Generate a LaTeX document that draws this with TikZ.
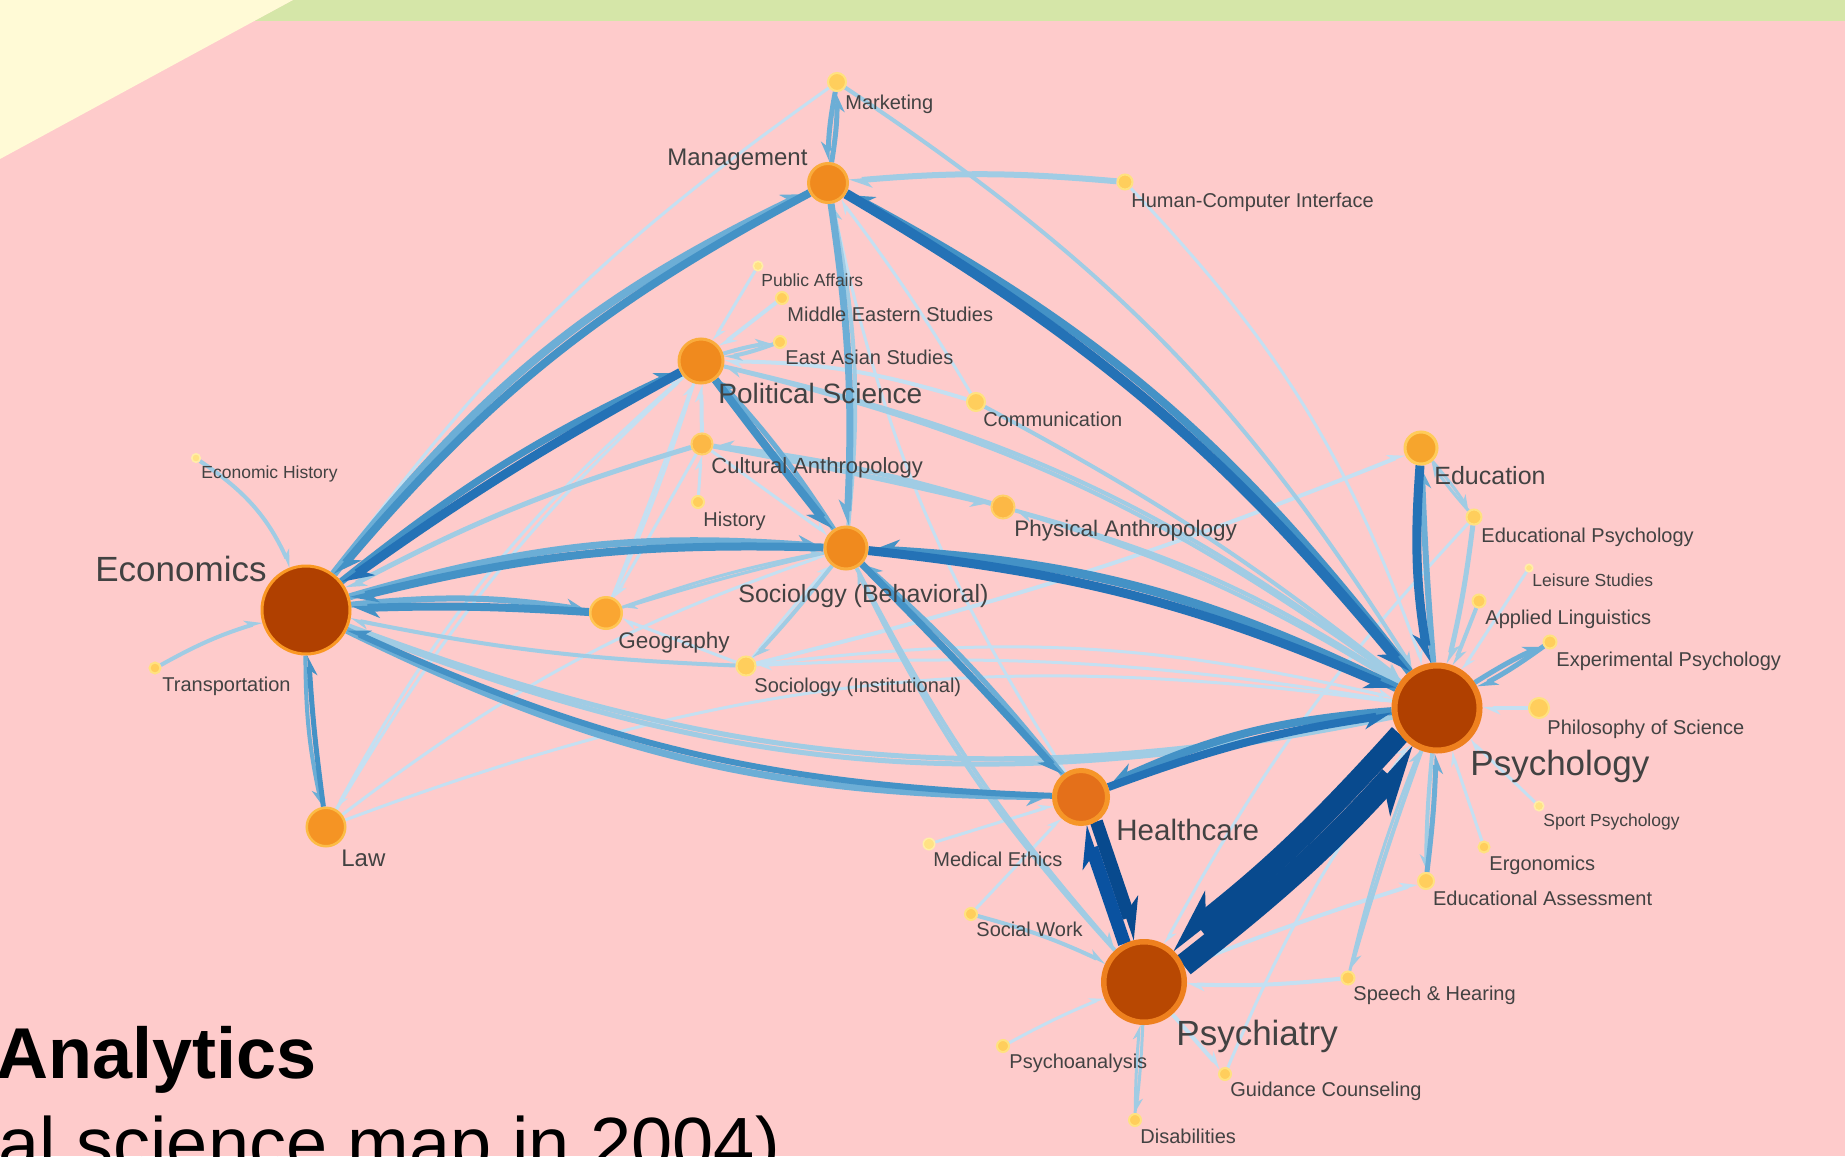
\documentclass[tikz,border=0pt]{standalone}
\usepackage{fontspec}
\setmainfont{Liberation Sans}
\usetikzlibrary{arrows.meta}

% background fields
\definecolor{pinkbg}{RGB}{254,203,203}
\definecolor{greenbg}{RGB}{213,230,168}
\definecolor{yellowbg}{RGB}{255,250,214}
% connector blues, light to dark
\definecolor{eA}{RGB}{196,224,242}
\definecolor{eB}{RGB}{160,204,228}
\definecolor{eC}{RGB}{108,174,214}
\definecolor{eD}{RGB}{68,146,198}
\definecolor{eE}{RGB}{36,114,182}
\definecolor{eF}{RGB}{10,82,160}
\definecolor{eG}{RGB}{8,74,142}
% node fills and rims
\definecolor{fBig}{RGB}{176,64,0}
\definecolor{fPsc}{RGB}{184,72,2}
\definecolor{bPsy}{RGB}{238,128,30}
\definecolor{bEco}{RGB}{250,152,35}
\definecolor{fHc}{RGB}{228,112,26}
\definecolor{bHc}{RGB}{246,150,40}
\definecolor{fMid}{RGB}{240,138,30}
\definecolor{bMid}{RGB}{250,172,60}
\definecolor{fLaw}{RGB}{245,148,36}
\definecolor{bLaw}{RGB}{252,188,70}
\definecolor{fEdu}{RGB}{246,165,45}
\definecolor{bEdu}{RGB}{255,204,90}
\definecolor{fGeo}{RGB}{250,166,50}
\definecolor{bGeo}{RGB}{255,198,84}
\definecolor{fAnt}{RGB}{252,184,70}
\definecolor{bAnt}{RGB}{255,208,105}
\definecolor{fSm}{RGB}{255,206,92}
\definecolor{bSm}{RGB}{255,226,128}
\definecolor{fTi}{RGB}{255,226,132}
\definecolor{bTi}{RGB}{255,238,168}
\definecolor{labc}{RGB}{66,66,66}

\pgfdeclarelayer{bg}
\pgfdeclarelayer{edges}
\pgfsetlayers{bg,edges,main}

\tikzset{
  ew/.style={line width={#1*0.5pt}},
  hl/.style={-{Stealth[harpoon,length=3pt 2.2,width=2.5pt 2]}},
  hr/.style={-{Stealth[harpoon,swap,length=3pt 2.2,width=2.5pt 2]}},
  nd/.style={circle,inner sep=0pt},
  nEco/.style={nd,fill=fBig,draw=bEco},
  nPsy/.style={nd,fill=fBig,draw=bPsy},
  nPsc/.style={nd,fill=fPsc,draw=bPsy},
  nHc/.style={nd,fill=fHc,draw=bHc},
  nMid/.style={nd,fill=fMid,draw=bMid,line width=1.5pt},
  nLaw/.style={nd,fill=fLaw,draw=bLaw,line width=1.25pt},
  nEdu/.style={nd,fill=fEdu,draw=bEdu,line width=1.5pt},
  nGeo/.style={nd,fill=fGeo,draw=bGeo,line width=1.25pt},
  nAnt/.style={nd,fill=fAnt,draw=bAnt,line width=1pt},
  nSm/.style={nd,fill=fSm,draw=bSm,line width=1pt,minimum size=#1},
  nTi/.style={nd,fill=fTi,draw=bTi,line width=0.75pt,minimum size=#1},
  lb/.style={anchor=base west,inner sep=0pt,text=labc,font=\fontsize{#1pt}{#1pt}\selectfont},
  ttl/.style={anchor=base west,inner sep=0pt,text=black,font=\fontsize{#1pt}{#1pt}\selectfont}
}
% connector from node to node with a given bend
\newcommand\cn[4]{\draw[#4] (#1) to[bend left=#3] (#2);}

\begin{document}
\begin{tikzpicture}[x=0.5pt,y=-0.5pt]
\useasboundingbox (0,0) rectangle (1845,1156);

\begin{pgfonlayer}{bg}
  \fill[pinkbg] (0,0) rectangle (1845,1156);
  \fill[greenbg] (293,0) -- (1845,0) -- (1845,21) -- (254,21) -- cycle;
  \fill[yellowbg] (0,0) -- (293,0) -- (0,159) -- cycle;
\end{pgfonlayer}

% ---------- nodes ----------
\node[nEco,minimum size=44pt,line width=1.5pt] (Econ) at (306,610) {};
\node[nPsy,minimum size=42.5pt,line width=3pt] (Psych) at (1437,708) {};
\node[nPsc,minimum size=40.25pt,line width=2.75pt] (Psychiatry) at (1144,982) {};
\node[nHc,minimum size=26.5pt,line width=2.5pt] (Health) at (1081,797) {};
\node[nMid,minimum size=19.5pt] (Mgmt) at (828,183) {};
\node[nMid,minimum size=22pt] (PolSci) at (701,361) {};
\node[nMid,minimum size=21pt] (SocB) at (846,548) {};
\node[nLaw,minimum size=19.25pt] (Law) at (326,827) {};
\node[nEdu,minimum size=16pt] (Edu) at (1421,448) {};
\node[nGeo,minimum size=15.75pt] (Geo) at (606,613) {};
\node[nAnt,minimum size=10.5pt] (CultAnth) at (702,444) {};
\node[nAnt,minimum size=11.5pt] (PhysAnth) at (1003,507) {};
\node[nSm=9pt] (Mkt) at (837,82) {};
\node[nSm=7.5pt] (HCI) at (1125,182) {};
\node[nSm=9pt] (Comm) at (976,402) {};
\node[nSm=10pt] (PhilSci) at (1539,708) {};
\node[nSm=8pt] (EduAssess) at (1426,881) {};
\node[nSm=7.5pt] (EduPsych) at (1474,517) {};
\node[nSm=6.5pt] (ApplLing) at (1479,601) {};
\node[nSm=6.5pt] (ExpPsych) at (1550,642) {};
\node[nSm=6pt] (MidEast) at (782,298) {};
\node[nSm=6pt] (EastAsia) at (780,342) {};
\node[nSm=6pt] (Hist) at (698,502) {};
\node[nSm=9.5pt] (SocI) at (746,666) {};
\node[nSm=6pt] (SocWork) at (971,914) {};
\node[nSm=6pt] (Psychoan) at (1003,1046) {};
\node[nSm=6pt] (Disab) at (1135,1120) {};
\node[nSm=6pt] (Guid) at (1225,1074) {};
\node[nSm=6.5pt] (Speech) at (1348,978) {};
\node[nSm=5.5pt] (Ergo) at (1484,847) {};
\node[nSm=5.5pt] (Transp) at (155,668) {};
\node[nTi=3.75pt] (Leisure) at (1529,568) {};
\node[nTi=4.75pt] (PubAff) at (758,266) {};
\node[nTi=4.25pt] (EconHist) at (196,458) {};
\node[nTi=4.75pt] (Sport) at (1539,806) {};
\node[nTi=5.75pt] (MedEth) at (929,844) {};

% ---------- connectors ----------
\begin{pgfonlayer}{edges}
% lightest
\cn{Mkt}{Econ}{-9}{ew=3,eA,hl}
\cn{HCI}{Psych}{12}{ew=3,eA,hl}
\cn{Comm}{Mgmt}{-3}{ew=3,eA,hl}
\cn{Health}{Mgmt}{10}{ew=3,eA,hl}
\cn{PubAff}{PolSci}{0}{ew=3,eA,hl}
\cn{MidEast}{PolSci}{0}{ew=4,eA,hl}
\cn{Comm}{PolSci}{-8}{ew=4,eA,hl}
\cn{CultAnth}{PolSci}{0}{ew=4,eA,hl}
\cn{Hist}{CultAnth}{0}{ew=3,eA,hl}
\cn{PolSci}{Geo}{3}{ew=3,eA,hl}
\cn{Geo}{PolSci}{-1}{ew=3,eA,hl}
\cn{CultAnth}{Geo}{0}{ew=3,eA,hl}
\cn{Law}{PolSci}{8}{ew=3,eA,hl}
\cn{PolSci}{Law}{-10}{ew=3,eA,hl}
\cn{CultAnth}{SocB}{0}{ew=3,eA,hl}
\cn{SocI}{SocB}{2.2}{ew=3,eA,hl}
\cn{Law}{SocB}{9}{ew=3,eA,hl}
\cn{Law}{Psych}{14}{ew=3,eA,hl}
\cn{SocI}{Edu}{-4}{ew=4,eA,hl}
\cn{SocI}{Geo}{0}{ew=3,eA,hl}
\cn{SocI}{Psych}{10}{ew=3,eA,hl}
\cn{Psych}{SocI}{-6}{ew=3,eA,hl}
\cn{MedEth}{Health}{0}{ew=3,eA,hl}
\cn{SocWork}{Health}{0}{ew=3,eA,hl}
\cn{Psychoan}{Psychiatry}{3}{ew=3,eA,hl}
\cn{Psychiatry}{Guid}{0}{ew=4,eA,hl}
\cn{Speech}{Psychiatry}{4}{ew=4,eA,hl}
\cn{Psychiatry}{EduAssess}{2}{ew=4,eA,hl}
\cn{EduPsych}{Psychiatry}{-7}{ew=3,eA,hl}
\cn{Guid}{Psych}{6.5}{ew=3,eA,hl}
\cn{Ergo}{Psych}{0}{ew=3,eA,hl}
\cn{Sport}{Psych}{0}{ew=3,eA,hl}
\cn{PhilSci}{Psych}{0}{ew=4,eA,hl}
\cn{Leisure}{Psych}{0}{ew=3,eA,hl}
% light
\cn{Econ}{Psych}{-15.5}{ew=5,eB,hl}
\cn{Psych}{Econ}{16.5}{ew=5,eB,hl}
\cn{SocI}{Econ}{4.5}{ew=4,eB,hl}
\cn{CultAnth}{Econ}{-5.5}{ew=5,eB,hl}
\cn{EconHist}{Econ}{16}{ew=4,eB,hl}
\cn{Transp}{Econ}{6}{ew=4,eB,hl}
\cn{HCI}{Mgmt}{-5}{ew=6,eB,hl}
\cn{SocB}{Mgmt}{-8.5}{ew=4,eB,hr}
\cn{Mkt}{Psych}{12}{ew=4,eB,hl}
\cn{EastAsia}{PolSci}{4.8}{ew=4,eB,hl}
\cn{PolSci}{EastAsia}{4.8}{ew=4,eB,hl}
\cn{PolSci}{Psych}{12}{ew=4,eB,hl}
\cn{Psych}{PolSci}{-11}{ew=4,eB,hl}
\cn{CultAnth}{PhysAnth}{1.4}{ew=5,eB,hr}
\cn{PhysAnth}{CultAnth}{-4.6}{ew=5,eB,hr}
\cn{PhysAnth}{Psych}{8.8}{ew=4,eB,hl}
\cn{Psych}{PhysAnth}{-7.2}{ew=4,eB,hl}
\cn{Comm}{Psych}{5}{ew=4,eB,hl}
\cn{SocB}{Psychiatry}{-6.7}{ew=4,eB,hl}
\cn{Psychiatry}{SocB}{8.1}{ew=4,eB,hl}
\cn{Geo}{SocB}{4.2}{ew=3,eB,hl}
\cn{SocB}{Geo}{-1.8}{ew=3,eB,hl}
\cn{SocB}{SocI}{2.2}{ew=4,eB,hl}
\cn{SocWork}{Psychiatry}{5}{ew=4,eB,hl}
\cn{Disab}{Psychiatry}{2.1}{ew=3,eB,hl}
\cn{Psychiatry}{Disab}{2.1}{ew=3,eB,hl}
\cn{Psych}{Speech}{-1.8}{ew=4,eB,hl}
\cn{Speech}{Psych}{4.2}{ew=3,eB,hl}
\cn{Psych}{EduAssess}{-2.5}{ew=4,eB,hr}
\cn{ApplLing}{Psych}{0}{ew=4,eB,hl}
\cn{EduPsych}{Psych}{3}{ew=5,eB,hl}
\cn{Edu}{EduPsych}{3.4}{ew=3,eB,hl}
\cn{EduPsych}{Edu}{3.4}{ew=3,eB,hl}
% medium
\cn{Econ}{Mgmt}{13.2}{ew=8,eC,hl}
\cn{Econ}{SocB}{10.3}{ew=7,eC,hl}
\cn{Econ}{Geo}{7.3}{ew=6,eC,hl}
\cn{Econ}{Health}{-12.8}{ew=7,eC,hr}
\cn{Econ}{Law}{-6}{ew=4,eC,hr}
\cn{Mkt}{Mgmt}{-4.8}{ew=5,eC,hr}
\cn{Mgmt}{Mkt}{-4.8}{ew=5,eC,hr}
\cn{Mgmt}{SocB}{5.5}{ew=7,eC,hr}
\cn{SocB}{PolSci}{-4.7}{ew=5,eC,hr}
\cn{Health}{SocB}{-4.7}{ew=5,eC,hr}
\cn{EduAssess}{Psych}{-2.5}{ew=5,eC,hr}
\cn{ExpPsych}{Psych}{3.7}{ew=5,eC,hl}
\cn{Psych}{ExpPsych}{3.7}{ew=5,eC,hl}
\cn{Psych}{Edu}{1.2}{ew=6,eC,hr}
% darker
\cn{Mgmt}{Econ}{-10.8}{ew=8,eD,hl}
\cn{Econ}{PolSci}{6.7}{ew=7,eD,hl}
\cn{SocB}{Econ}{-7.7}{ew=8,eD,hl}
\cn{Geo}{Econ}{-2.7}{ew=8,eD,hl}
\cn{Health}{Econ}{11.2}{ew=6,eD,hr}
\cn{Law}{Econ}{2}{ew=5,eD,hr}
\cn{Psych}{Mgmt}{-12.1}{ew=8,eD,hr}
\cn{PolSci}{SocB}{-0.7}{ew=8,eD,hr}
\cn{Psych}{SocB}{-11.4}{ew=9,eD,hr}
\cn{SocB}{Health}{1.3}{ew=7,eD,hr}
\cn{Psych}{Health}{-10.1}{ew=8,eD,hr}
% dark
\cn{PolSci}{Econ}{-3.3}{ew=9,eE,hl}
\cn{Mgmt}{Psych}{9.9}{ew=10,eE,hr}
\cn{SocB}{Psych}{8.6}{ew=9,eE,hr}
\cn{Health}{Psych}{5.9}{ew=8,eE,hr}
\cn{Edu}{Psych}{-6.8}{ew=9,eE,hr}
% heaviest pairs, each lane on its own side
\draw[ew=13,eG,hl] (Health.-58) to (Psychiatry.100);
\draw[ew=13,eF,hl] (Psychiatry.117) to (Health.-84);
\draw[ew=23,eG,hr] (Psychiatry.23) to[bend right=5] (Psych.243);
\draw[ew=21,eG,hr] (Psych.215) to[bend left=5] (Psychiatry.52);
\end{pgfonlayer}

% ---------- labels ----------
\node[lb=10] (lMkt) at (845,110) {Marketing};
\node[lb=12] (lMgmt) at (667,165) {Management};
\node[lb=10] (lHCI) at (1131,207) {Human-Computer Interface};
\node[lb=8.75] (lPubAff) at (761,286) {Public Affairs};
\node[lb=10] (lMidEast) at (787,321) {Middle Eastern Studies};
\node[lb=10] (lEastAsia) at (785,364) {East Asian Studies};
\node[lb=14] (lPolSci) at (718,403) {Political Science};
\node[lb=10] (lComm) at (983,426.5) {Communication};
\node[lb=11] (lCultAnth) at (711,473) {Cultural Anthropology};
\node[lb=10] (lHist) at (703,526) {History};
\node[lb=11.25] (lPhysAnth) at (1014,536) {Physical Anthropology};
\node[lb=12.5] (lSocB) at (738,602) {Sociology (Behavioral)};
\node[lb=11.25] (lGeo) at (618,648.5) {Geography};
\node[lb=10] (lSocI) at (754,692.6) {Sociology (Institutional)};
\node[lb=14.75] (lHealth) at (1116,840.4) {Healthcare};
\node[lb=10] (lMedEth) at (933,866) {Medical Ethics};
\node[lb=10] (lSocWork) at (976,936.6) {Social Work};
\node[lb=17.5] (lPsychiatry) at (1176,1045.7) {Psychiatry};
\node[lb=10] (lPsychoan) at (1009,1068) {Psychoanalysis};
\node[lb=10] (lDisab) at (1140,1143) {Disabilities};
\node[lb=10] (lGuid) at (1230,1096.6) {Guidance Counseling};
\node[lb=10] (lSpeech) at (1353,1000) {Speech \& Hearing};
\node[lb=10] (lEduAssess) at (1432.7,905) {Educational Assessment};
\node[lb=17.5] (lPsych) at (1470,775.7) {Psychology};
\node[lb=12.5] (lEdu) at (1434,484) {Education};
\node[lb=10] (lEduPsych) at (1481,542.6) {Educational Psychology};
\node[lb=8.75] (lLeisure) at (1532,586.5) {Leisure Studies};
\node[lb=10] (lApplLing) at (1485,624.3) {Applied Linguistics};
\node[lb=10] (lExpPsych) at (1556,666) {Experimental Psychology};
\node[lb=10] (lPhilSci) at (1547,734.3) {Philosophy of Science};
\node[lb=8.75] (lSport) at (1543,826.7) {Sport Psychology};
\node[lb=10] (lErgo) at (1489,870) {Ergonomics};
\node[lb=17.5] (lEcon) at (95,581.7) {Economics};
\node[lb=8.75] (lEconHist) at (201,478.6) {Economic History};
\node[lb=10] (lTransp) at (162,691) {Transportation};
\node[lb=12] (lLaw) at (341,866.5) {Law};

% ---------- caption at the lower left ----------
\begin{scope}
  \clip (0,0) rectangle (1845,1156);
  \node[ttl=36] (cap1) at (-4,1078) {\bfseries Analytics};
  \node[ttl=37] (cap2) at (-2,1169) {al science map in 2004)};
\end{scope}
\end{tikzpicture}
\end{document}
